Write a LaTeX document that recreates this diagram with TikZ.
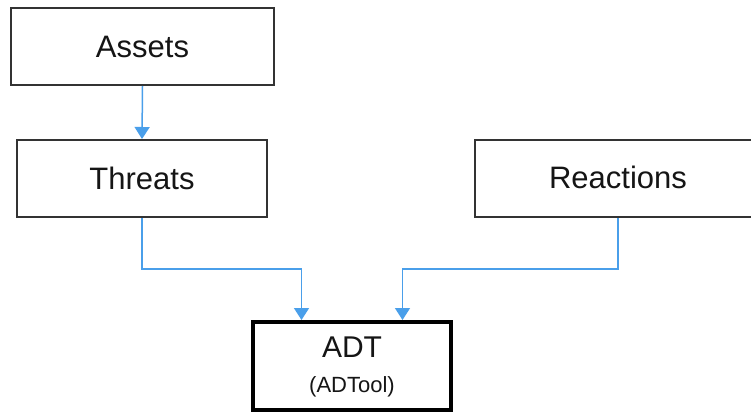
\documentclass[tikz,border=0pt]{standalone}
\usepackage{fontspec}
\setmainfont{Liberation Sans}
\usetikzlibrary{arrows.meta,calc}
\definecolor{arrowblue}{HTML}{4A9FEA}
\definecolor{boxline}{HTML}{333333}
\definecolor{txt}{HTML}{151515}
\begin{document}
\begin{tikzpicture}[x=1pt,y=-1pt,
  plainbox/.style={draw=boxline,line width=2pt,fill=white,rectangle,inner sep=0pt,
    minimum height=77pt,font=\fontsize{31}{35}\selectfont,text=txt},
  conn/.style={draw=arrowblue,line width=1.5pt,-{Triangle[width=15pt,length=12pt]}}]
\clip (0,0) rectangle (751,412);
\fill[white] (0,0) rectangle (751,412);
% boxes
\node[plainbox,minimum width=263pt] (assets) at (142.5,46.5) {Assets};
\node[plainbox,minimum width=250pt] (threats) at (142,178.5) {Threats};
\node[plainbox,minimum width=286pt] (reactions) at (618,178.5) {\hspace*{0pt}};
\node[font=\fontsize{31}{35}\selectfont,text=txt] (reactlbl) at (618,177) {Reactions};
\node[draw=black,line width=4pt,fill=white,rectangle,minimum width=198pt,minimum height=88pt] (adt) at (352,366) {};
\node[font=\fontsize{30}{34}\selectfont,text=txt] (adtlbl) at (352,347) {ADT};
\node[font=\fontsize{22}{26}\selectfont,text=txt] (adtool) at (352,387) {(ADTool)};
% connectors
\coordinate (adtL) at ($(adt.north west)!0.25!(adt.north east)$);
\coordinate (adtR) at ($(adt.north west)!0.75!(adt.north east)$);
\draw[conn] (assets.south) -- (threats.north);
\draw[conn] (threats.south) |- ($(threats.south)!0.5!(adtL)$) -| (adtL);
\draw[conn] (reactions.south) |- ($(reactions.south)!0.5!(adtR)$) -| (adtR);
\end{tikzpicture}
\end{document}
